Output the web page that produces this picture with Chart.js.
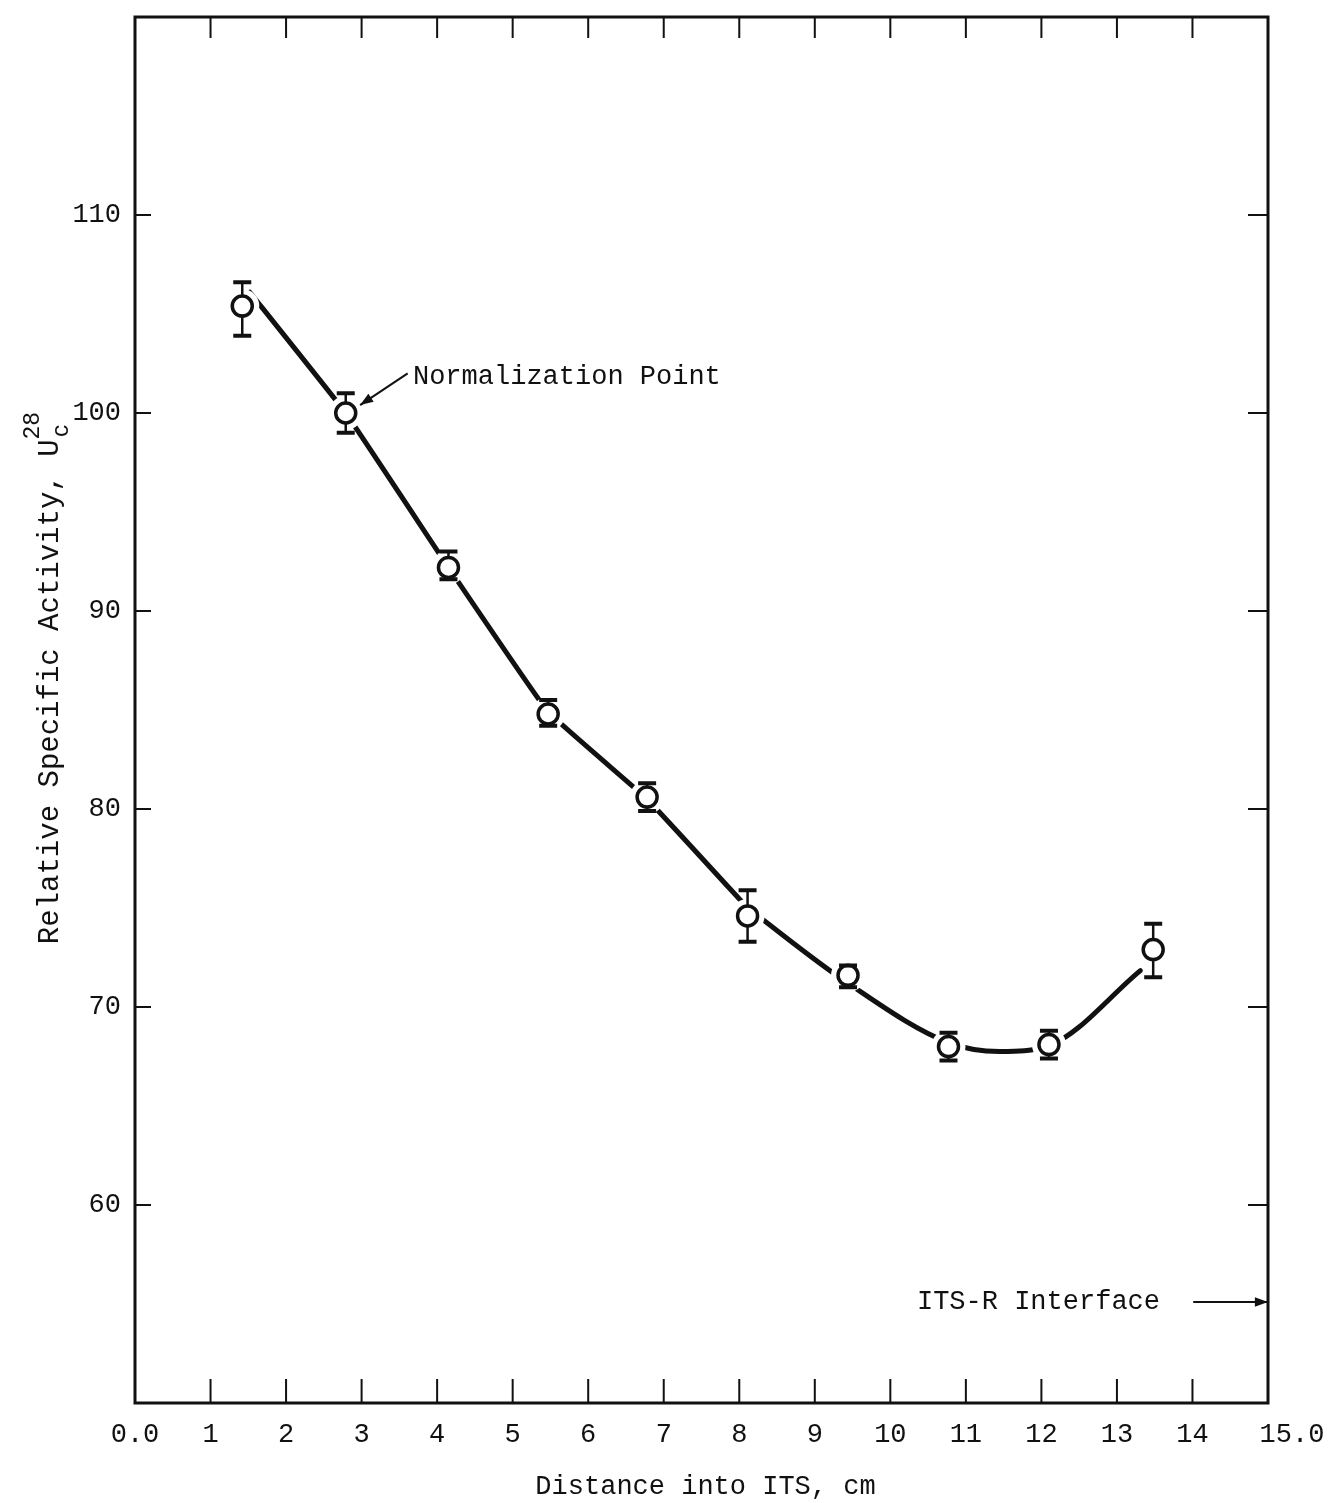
<!DOCTYPE html>
<html>
<head>
<meta charset="utf-8">
<title>Relative Specific Activity vs Distance into ITS</title>
<script src="https://cdn.jsdelivr.net/npm/chart.js@4.4.1/dist/chart.umd.min.js"></script>
<style>
  html, body { margin: 0; padding: 0; background: #fff; }
  #wrap { width: 1333px; height: 1503px; }
</style>
</head>
<body>
<div id="wrap"><canvas id="activityChart" width="1333" height="1503"></canvas></div>
<script>
// measured points (distance in cm, relative activity)
const distance = [1.42, 2.79, 4.15, 5.47, 6.78, 8.11, 9.44, 10.77, 12.10, 13.48];
const activity = [105.4, 100.0, 92.2, 84.8, 80.6, 74.6, 71.6, 68.0, 68.1, 72.9];
const errHigh  = [106.6, 101.0, 93.0, 85.5, 81.3, 75.9, 72.1, 68.7, 68.8, 74.2];
const errLow   = [103.9, 99.0, 91.6, 84.2, 79.9, 73.3, 71.0, 67.3, 67.4, 71.5];

// hand-drawn curve: nearly straight on the falling side, rounded through the minimum
const slopeX = [1.52, 2.79, 4.15, 5.47, 6.78, 8.11];
const slopeY = [106.1, 100.0, 92.2, 84.9, 80.5, 75.0];
const bowlX = [8.11, 9.44, 10.77, 11.45, 12.10, 13.31];
const bowlY = [75.0, 71.2, 68.2, 67.75, 68.05, 71.84];

const xTicks = [0, 1, 2, 3, 4, 5, 6, 7, 8, 9, 10, 11, 12, 13, 14, 15];
const xTickLabels = ["0.0", "1", "2", "3", "4", "5", "6", "7", "8", "9", "10", "11", "12", "13", "14", "15.0"];
const yTicks = [60, 70, 80, 90, 100, 110];

const FAMILY = '"Liberation Mono", "DejaVu Sans Mono", monospace';
const FONT = '27px ' + FAMILY;
const INK = '#111';

function arrow(ctx, x1, y1, x2, y2) {
  const ang = Math.atan2(y2 - y1, x2 - x1);
  ctx.beginPath();
  ctx.moveTo(x1, y1);
  ctx.lineTo(x2, y2);
  ctx.stroke();
  ctx.beginPath();
  ctx.moveTo(x2, y2);
  ctx.lineTo(x2 - 14 * Math.cos(ang - 0.35), y2 - 14 * Math.sin(ang - 0.35));
  ctx.lineTo(x2 - 14 * Math.cos(ang + 0.35), y2 - 14 * Math.sin(ang + 0.35));
  ctx.closePath();
  ctx.fill();
}

const errorBars = {
  id: 'errorBars',
  afterDatasetsDraw(chart) {
    const { ctx, scales: { x, y } } = chart;
    const r = 10;
    ctx.save();
    ctx.strokeStyle = INK;
    distance.forEach((d, i) => {
      const px = x.getPixelForValue(d);
      const py = y.getPixelForValue(activity[i]);
      const hi = y.getPixelForValue(errHigh[i]);
      const lo = y.getPixelForValue(errLow[i]);
      ctx.lineWidth = 2.5;
      ctx.beginPath();
      if (hi < py - r) { ctx.moveTo(px, py - r); ctx.lineTo(px, hi); }
      if (lo > py + r) { ctx.moveTo(px, py + r); ctx.lineTo(px, lo); }
      ctx.stroke();
      ctx.lineWidth = 4;
      ctx.beginPath();
      ctx.moveTo(px - 9, hi); ctx.lineTo(px + 9, hi);
      ctx.moveTo(px - 9, lo); ctx.lineTo(px + 9, lo);
      ctx.stroke();
    });
    ctx.restore();
  }
};

const paperAxes = {
  id: 'paperAxes',
  afterDraw(chart) {
    const { ctx, chartArea: a, scales: { x, y } } = chart;
    ctx.save();
    ctx.strokeStyle = INK;
    ctx.fillStyle = INK;

    // frame
    ctx.lineWidth = 3;
    ctx.strokeRect(a.left, a.top, a.right - a.left, a.bottom - a.top);

    // inward tick marks
    ctx.lineWidth = 2;
    ctx.beginPath();
    xTicks.forEach(v => {
      if (v <= x.min || v >= x.max) return;
      const px = x.getPixelForValue(v);
      ctx.moveTo(px, a.top); ctx.lineTo(px, a.top + 21);
      ctx.moveTo(px, a.bottom); ctx.lineTo(px, a.bottom - 24);
    });
    yTicks.forEach(v => {
      const py = y.getPixelForValue(v);
      ctx.moveTo(a.left, py); ctx.lineTo(a.left + 16, py);
      ctx.moveTo(a.right, py); ctx.lineTo(a.right - 20, py);
    });
    ctx.stroke();

    // tick labels
    ctx.font = FONT;
    ctx.textBaseline = 'middle';
    ctx.textAlign = 'center';
    xTicks.forEach((v, i) => {
      const shift = i === xTicks.length - 1 ? 24 : 0;
      ctx.fillText(xTickLabels[i], x.getPixelForValue(v) + shift, a.bottom + 32);
    });
    ctx.textAlign = 'right';
    yTicks.forEach(v => {
      ctx.fillText(String(v), a.left - 14, y.getPixelForValue(v));
    });

    // x axis title
    ctx.textAlign = 'center';
    ctx.fillText('Distance into ITS, cm', (a.left + a.right) / 2 + 4, a.bottom + 84);

    // y axis title with U(28, c)
    ctx.save();
    ctx.translate(58, 678);
    ctx.rotate(-Math.PI / 2);
    ctx.textBaseline = 'alphabetic';
    ctx.textAlign = 'left';
    const main = 'Relative Specific Activity, U';
    ctx.font = '29px ' + FAMILY;
    const w = ctx.measureText(main).width;
    ctx.font = '23px ' + FAMILY;
    const wSup = ctx.measureText('28').width;
    const x0 = -(w + wSup) / 2;
    ctx.font = '29px ' + FAMILY;
    ctx.fillText(main, x0, 0);
    ctx.font = '23px ' + FAMILY;
    ctx.fillText('28', x0 + w, -19);
    ctx.fillText('c', x0 + w + 2, 10);
    ctx.restore();

    // annotations
    ctx.font = FONT;
    ctx.textAlign = 'left';
    ctx.textBaseline = 'middle';
    ctx.fillText('Normalization Point', x.getPixelForValue(3.68), y.getPixelForValue(101.85));
    ctx.lineWidth = 2;
    arrow(ctx, x.getPixelForValue(3.61), y.getPixelForValue(102.0),
               x.getPixelForValue(2.98), y.getPixelForValue(100.4));

    ctx.textAlign = 'right';
    ctx.fillText('ITS-R Interface', x.getPixelForValue(13.57), y.getPixelForValue(55.1));
    arrow(ctx, x.getPixelForValue(14.01), y.getPixelForValue(55.1),
               x.getPixelForValue(15), y.getPixelForValue(55.1));
    ctx.restore();
  }
};

const points = distance.map((d, i) => ({ x: d, y: activity[i] }));
const slope = slopeX.map((d, i) => ({ x: d, y: slopeY[i] }));
const bowl = bowlX.map((d, i) => ({ x: d, y: bowlY[i] }));

const curveStyle = {
  showLine: true,
  borderColor: INK,
  borderWidth: 5,
  borderCapStyle: 'round',
  pointRadius: 0,
  order: 3
};

new Chart(document.getElementById('activityChart'), {
  type: 'scatter',
  data: {
    datasets: [
      Object.assign({ label: 'curve (falling)', data: slope, tension: 0.08 }, curveStyle),
      Object.assign({ label: 'curve (minimum)', data: bowl, cubicInterpolationMode: 'monotone' }, curveStyle),
      {
        // white gap around each marker
        label: 'gap',
        data: points,
        pointRadius: 17,
        pointBackgroundColor: '#fff',
        pointBorderWidth: 0,
        order: 2
      },
      {
        label: 'measured',
        data: points,
        pointRadius: 10,
        pointBackgroundColor: '#fff',
        pointBorderColor: INK,
        pointBorderWidth: 3.5,
        order: 1
      }
    ]
  },
  options: {
    responsive: false,
    animation: false,
    events: [],
    layout: { padding: { left: 135, right: 65, top: 15, bottom: 100 } },
    plugins: { legend: { display: false }, tooltip: { enabled: false } },
    scales: {
      x: { type: 'linear', min: 0, max: 15, display: false },
      y: { type: 'linear', min: 50, max: 120, display: false }
    }
  },
  plugins: [errorBars, paperAxes]
});
</script>
</body>
</html>
